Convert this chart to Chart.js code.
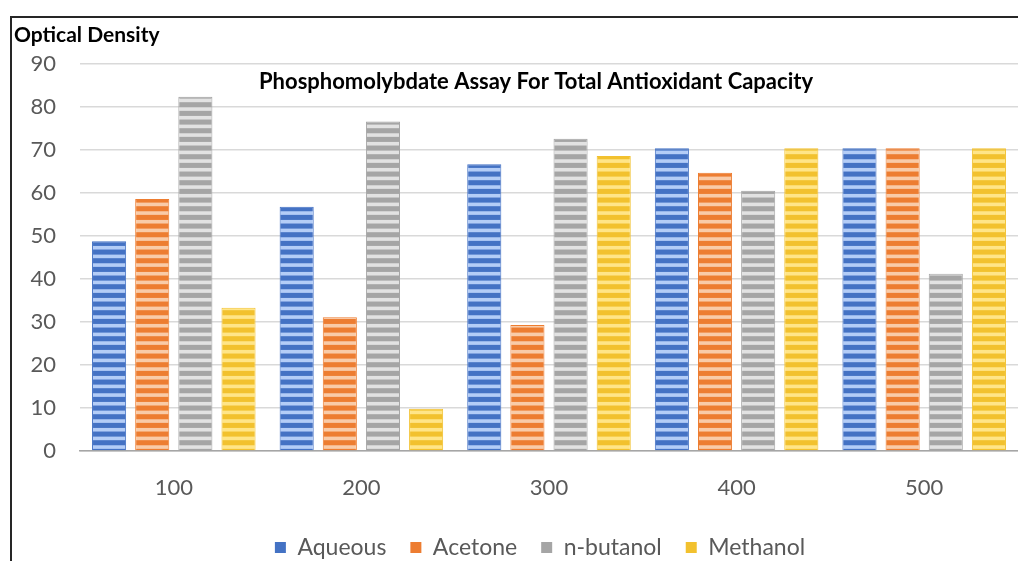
<!DOCTYPE html>
<html>
<head>
<meta charset="utf-8">
<script src="https://cdn.jsdelivr.net/npm/chart.js@4.4.0/dist/chart.umd.min.js"></script>
<style>
  html, body { margin: 0; padding: 0; background: #fff; overflow: hidden; }
  #moldura { position: absolute; left: 10px; top: 16px; width: 1008px; height: 545px; border-left: 2px solid #262626; border-top: 2px solid #262626; }
  #caixa { position: absolute; left: 0; top: 0; width: 1006px; height: 543px; }
</style>
</head>
<body>
<div id="moldura"><div id="caixa"><canvas id="myChartBarFosfo"></canvas></div></div>
<script>
const categorias = ['100', '200', '300', '400', '500'];
const aquoso = [48.8, 56.8, 66.7, 70.4, 70.4];
const acetona = [58.6, 31.1, 29.3, 64.7, 70.4];
const butanol = [82.4, 76.6, 72.6, 60.5, 41.2];
const metanol = [33.3, 9.8, 68.6, 70.4, 70.4];
const tickY = [0, 10, 20, 30, 40, 50, 60, 70, 80, 90];

const corEscura = ['#4472c4', '#ed7d31', '#a5a5a5', '#f2c12e'];
const corClara = ['#b4cdf7', '#f9cba8', '#e2e2e2', '#ffe588'];

// faixas horizontais como no Excel
function listrado(escuro, claro) {
    const c = document.createElement('canvas');
    c.width = 4;
    c.height = 26;
    const g = c.getContext('2d');
    g.fillStyle = escuro;
    g.fillRect(0, 0, 4, 26);
    g.fillStyle = claro;
    for (let i = 0; i < 3; i++) {
        g.fillRect(0, i * 26 / 3 + 2.6, 4, 3.6);
    }
    return g.createPattern(c, 'repeat');
}

// titulo do eixo (horizontal, no canto) e titulo dentro da area do grafico
const textos = {
    id: 'textos',
    afterLayout(chart) {
        // legenda centrada sob a area do grafico, nao sob o canvas
        chart.legend.left += 24;
        chart.legend.right += 24;
    },
    afterDraw(chart) {
        const ctx = chart.ctx;
        const area = chart.chartArea;
        ctx.save();
        ctx.fillStyle = '#000';
        ctx.textBaseline = 'middle';
        ctx.textAlign = 'left';
        ctx.font = 'bold 21px Lato';
        ctx.fillText('Optical Density', 2, 17);
        ctx.textAlign = 'center';
        ctx.font = 'bold 22px Lato';
        ctx.fillText('Phosphomolybdate Assay For Total Antioxidant Capacity', area.left + 456, area.top + 18);
        ctx.restore();
    }
};

const nomes = ['Aqueous', 'Acetone', 'n-butanol', 'Methanol'];
const series = [aquoso, acetona, butanol, metanol];

const ctxFosfo = document.getElementById('myChartBarFosfo');
var chartFosfo = new Chart(ctxFosfo, {
    type: 'bar',
    data: {
        labels: categorias,
        datasets: series.map(function (s, i) {
            return {
                label: nomes[i],
                data: s,
                backgroundColor: listrado(corEscura[i], corClara[i]),
                borderColor: corEscura[i],
                borderWidth: 1,
                categoryPercentage: 0.92,
                barPercentage: 0.79,
            };
        })
    },
    options: {
        responsive: true,
        maintainAspectRatio: false,
        animation: false,
        layout: {
            padding: { left: 2, right: 0, top: 46, bottom: -8 }
        },
        plugins: {
            legend: {
                display: true,
                position: 'bottom',
                labels: {
                    color: '#595959',
                    boxWidth: 11,
                    boxHeight: 11,
                    padding: 24,
                    font: { family: 'Lato', size: 23 },
                    generateLabels: function (chart) {
                        const itens = Chart.defaults.plugins.legend.labels.generateLabels(chart);
                        itens.forEach(function (it, i) {
                            it.fillStyle = corEscura[i];
                            it.strokeStyle = corEscura[i];
                            it.lineWidth = 0;
                        });
                        return itens;
                    }
                }
            },
            tooltip: { enabled: false }
        },
        scales: {
            x: {
                afterFit: function (s) { s.height = 61; },
                grid: { display: false, drawTicks: false },
                border: { display: true, color: '#a6a6a6', width: 1.5 },
                ticks: {
                    color: '#595959',
                    padding: 24,
                    font: { family: 'Lato', size: 22 }
                }
            },
            y: {
                min: 0,
                max: 90,
                afterFit: function (s) { s.width = 66; },
                afterBuildTicks: function (s) {
                    s.ticks = tickY.map(function (v) { return { value: v }; });
                },
                grid: { color: '#d9d9d9', lineWidth: 1.5, drawTicks: false },
                border: { display: false },
                ticks: {
                    color: '#595959',
                    padding: 24,
                    font: { family: 'Lato', size: 22 }
                }
            }
        }
    },
    plugins: [textos]
});
</script>
</body>
</html>
